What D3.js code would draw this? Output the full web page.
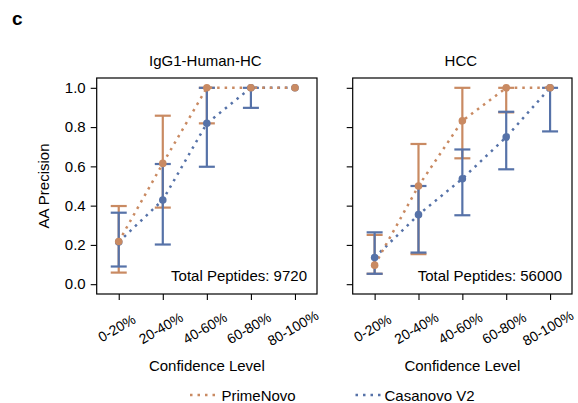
<!DOCTYPE html>
<html><head><meta charset="utf-8">
<script src="https://cdn.jsdelivr.net/npm/d3@7"></script>
<style>body{margin:0;background:#fff;} svg{display:block;} text{font-family:"Liberation Sans",Arial,sans-serif;fill:#000;}</style>
</head><body>
<svg id="chart" width="578" height="403"></svg>
<script>
const categories = ["0-20%","20-40%","40-60%","60-80%","80-100%"];
const yTicks = [0.0, 0.2, 0.4, 0.6, 0.8, 1.0];
const seriesNames = ["PrimeNovo","Casanovo V2"];
const seriesColors = ["#c98a62","#5672a8"];
const panelTitles = ["IgG1-Human-HC","HCC"];
const totalPeptides = [9720, 56000];

// IgG1-Human-HC
const igPrimeMean = [0.217, 0.615, 1.0, 1.0, 1.0];
const igPrimeLow  = [0.059, 0.390, 0.819, 1.0, 1.0];
const igPrimeHigh = [0.398, 0.858, 1.0, 1.0, 1.0];
const igCasaMean  = [0.215, 0.429, 0.819, 1.0, 1.0];
const igCasaLow   = [0.090, 0.202, 0.598, 0.898, 1.0];
const igCasaHigh  = [0.364, 0.612, 1.0, 1.0, 1.0];
// HCC
const hccPrimeMean = [0.097, 0.500, 0.832, 1.0, 1.0];
const hccPrimeLow  = [0.053, 0.153, 0.641, 0.875, 1.0];
const hccPrimeHigh = [0.251, 0.714, 1.0, 1.0, 1.0];
const hccCasaMean  = [0.136, 0.354, 0.537, 0.749, 1.0];
const hccCasaLow   = [0.053, 0.161, 0.351, 0.585, 0.778];
const hccCasaHigh  = [0.264, 0.500, 0.686, 0.878, 1.0];

const panelsData = [
  [{mean: igPrimeMean, low: igPrimeLow, high: igPrimeHigh}, {mean: igCasaMean, low: igCasaLow, high: igCasaHigh}],
  [{mean: hccPrimeMean, low: hccPrimeLow, high: hccPrimeHigh}, {mean: hccCasaMean, low: hccCasaLow, high: hccCasaHigh}]
];

const svg = d3.select("#chart");
const FS = 15;
const plotTop = 78, plotBottom = 294;
const panelX = [[96.7, 317], [352.7, 572]];

svg.append("text").attr("x", 12).attr("y", 25).style("font-size", "19px").style("font-weight", "bold").text("c");

const y = d3.scaleLinear().domain([-0.05, 1.05]).range([plotBottom, plotTop]);

panelX.forEach((px, pi) => {
  const x = d3.scalePoint().domain(categories).range(px).padding(0.5);
  const g = svg.append("g");
  const cx = (px[0] + px[1]) / 2;

  // y axis
  const ya = g.append("g").attr("transform", `translate(${px[0]},0)`)
    .call(d3.axisLeft(y).tickValues(yTicks).tickSize(6).tickPadding(5).tickFormat(pi === 0 ? d3.format(".1f") : () => ""));
  ya.select(".domain").remove();
  ya.selectAll(".tick line").attr("stroke", "#000").attr("stroke-width", 1.1);
  ya.selectAll("text").style("font-size", FS + "px").attr("font-family", null);

  // x axis
  const xa = g.append("g").attr("transform", `translate(0,${plotBottom})`)
    .call(d3.axisBottom(x).tickSize(6).tickFormat(""));
  xa.select(".domain").remove();
  xa.selectAll(".tick line").attr("stroke", "#000").attr("stroke-width", 1.1);
  g.selectAll(".xlab").data(categories).enter().append("text")
    .attr("transform", d => `translate(${x(d) - 2},328) rotate(-30)`)
    .attr("text-anchor", "middle").attr("dominant-baseline", "central")
    .style("font-size", "14px").text(d => d);

  // frame
  g.append("rect").attr("x", px[0]).attr("y", plotTop).attr("width", px[1] - px[0]).attr("height", plotBottom - plotTop)
    .attr("fill", "none").attr("stroke", "#000").attr("stroke-width", 1.2);

  // titles
  g.append("text").attr("x", cx - 1.5).attr("y", 66).attr("text-anchor", "middle").style("font-size", FS + "px").text(panelTitles[pi]);
  g.append("text").attr("x", cx).attr("y", 370.5).attr("text-anchor", "middle").style("font-size", FS + "px").text("Confidence Level");
  g.append("text").attr("x", px[1] - 10).attr("y", 281).attr("text-anchor", "end").style("font-size", FS + "px").text("Total Peptides: " + totalPeptides[pi]);

  const series = panelsData[pi];
  const capW = 8;
  // error bars: PrimeNovo first, then Casanovo
  series.forEach((s, si) => {
    const eg = g.append("g").attr("stroke", seriesColors[si]).attr("stroke-width", 2.2);
    categories.forEach((c, i) => {
      if (s.high[i] - s.low[i] < 1e-6) return;
      const xc = x(c);
      eg.append("line").attr("x1", xc).attr("x2", xc).attr("y1", y(s.low[i])).attr("y2", y(s.high[i]));
      eg.append("line").attr("x1", xc - capW).attr("x2", xc + capW).attr("y1", y(s.low[i])).attr("y2", y(s.low[i]));
      eg.append("line").attr("x1", xc - capW).attr("x2", xc + capW).attr("y1", y(s.high[i])).attr("y2", y(s.high[i]));
    });
  });
  // dotted lines
  const line = d3.line().x((d, i) => x(categories[i])).y(d => y(d));
  [1, 0].forEach(si => {
    g.append("path").attr("d", line(series[si].mean)).attr("fill", "none")
      .attr("stroke", seriesColors[si]).attr("stroke-width", 2.5).attr("stroke-dasharray", "2.5 5");
  });
  // points
  [1, 0].forEach(si => {
    g.selectAll(null).data(series[si].mean).enter().append("circle")
      .attr("cx", (d, i) => x(categories[i])).attr("cy", d => y(d)).attr("r", 3.8)
      .attr("fill", seriesColors[si]);
  });
});

// y label
svg.append("text").attr("transform", `translate(43,${(plotTop + plotBottom) / 2}) rotate(-90)`)
  .attr("text-anchor", "middle").attr("dominant-baseline", "central").style("font-size", FS + "px").text("AA Precision");

// legend
const legendItems = [{x0: 190, x1: 216, tx: 221.5}, {x0: 355.5, x1: 381, tx: 384.5}];
legendItems.forEach((l, i) => {
  svg.append("line").attr("x1", l.x0).attr("x2", l.x1).attr("y1", 395).attr("y2", 395)
    .attr("stroke", seriesColors[i]).attr("stroke-width", 2.5).attr("stroke-dasharray", "2.5 5");
  svg.append("text").attr("x", l.tx).attr("y", 395).attr("dominant-baseline", "central")
    .style("font-size", FS + "px").text(seriesNames[i]);
});
</script>
</body></html>
